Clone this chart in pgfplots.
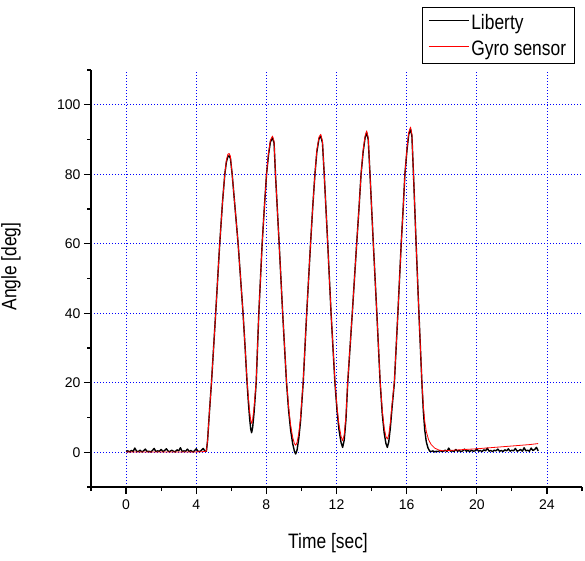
\documentclass[border=0pt]{standalone}
\usepackage{fontspec}
\setmainfont{Liberation Sans}
\usepackage{graphicx}
\usepackage{pgfplots}
\pgfplotsset{compat=1.18}

\begin{document}
\begin{tikzpicture}
\useasboundingbox (0,0) rectangle (585pt,560pt);
\begin{axis}[
  at={(91pt,73pt)}, anchor=south west,
  scale only axis, width=491pt, height=417pt,
  xmin=-2, xmax=26, ymin=-10, ymax=110,
  axis lines*=left,
  axis line style={line width=1.3pt},
  xtick={0,4,...,24}, ytick={0,20,...,100},
  minor xtick={-2,2,...,26}, minor ytick={-10,10,...,110},
  tick align=outside, major tick length=7pt, minor tick length=4pt,
  tick style={black, line width=1.2pt},
  xmajorgrids, ymajorgrids,
  major grid style={blue, line width=0.8pt, dash pattern=on 1pt off 2pt},
  /pgf/number format/assume math mode=true,
  tick label style={font=\fontsize{14}{16}\selectfont},
  xticklabel style={yshift=-2pt},
  xlabel={\scalebox{1}[1.2]{Time [sec]}},
  ylabel={\scalebox{1}[1.2]{Angle [deg]}},
  every axis x label/.style={at={(axis description cs:0.4827,-0.1343)}, anchor=center,
    font=\fontsize{17.4}{20}\selectfont},
  every axis y label/.style={at={(axis description cs:-0.1629,0.5288)}, anchor=center, rotate=90,
    font=\fontsize{17.4}{20}\selectfont},
  legend style={at={(axis description cs:0.9857,1.1511)}, anchor=north east,
    draw=black, line width=0.8pt, font=\fontsize{17.4}{20}\selectfont,
    inner xsep=6.5pt, inner ysep=5pt, row sep=5.5pt},
  legend cell align=left,
  legend image code/.code={\draw[#1, line width=0.8pt] (0pt,2.5pt) -- (40pt,2.5pt);},
]
% Liberty (reference tracker)
\addplot[black, line width=1.4pt, line join=round] coordinates {
(0.0,0.2)(0.1,0.4)(0.2,0.1)(0.3,0.5)(0.4,0.2)(0.5,1.2)(0.6,0.3)(0.7,0.2)(0.8,0.6)(0.9,0.1)
(1.0,0.4)(1.1,0.9)(1.2,0.2)(1.3,0.3)(1.4,0.1)(1.5,0.5)(1.6,1.1)(1.7,0.2)(1.8,0.4)(1.9,0.3)
(2.0,0.8)(2.1,0.2)(2.2,0.5)(2.3,1.0)(2.4,0.3)(2.5,0.2)(2.6,0.6)(2.7,0.3)(2.8,0.1)(2.9,0.7)
(3.0,0.4)(3.1,1.3)(3.2,0.2)(3.3,0.4)(3.4,0.3)(3.5,0.9)(3.6,0.2)(3.7,0.5)(3.8,0.1)(3.9,0.4)
(4.0,1.0)(4.1,0.3)(4.2,0.2)(4.3,0.6)(4.4,1.1)(4.5,0.3)(4.58,0.3)
(4.65,3.5)(4.72,9)(4.8,15)(4.87,20)(5.11,40)(5.34,60)(5.5,72)(5.63,80)(5.72,83.5)(5.8,85)(5.87,85.3)
(5.95,84.6)(6.05,80)(6.22,70)(6.39,60)(6.53,50)(6.67,40)(6.79,30)(6.9,20)(6.98,14)(7.05,9.5)
(7.11,6.6)(7.16,5.6)(7.22,7.2)(7.3,11.5)(7.42,20)
(7.57,40)(7.76,60)(7.88,70)(8.01,80)(8.12,85.5)(8.23,89.3)(8.35,90.5)
(8.44,89)(8.52,80)(8.73,60)(8.93,40)(9.15,20)(9.27,12)(9.38,6.5)(9.5,2.5)(9.6,0.3)(9.67,-0.5)
(9.75,0.6)(9.85,4)(9.95,9)(10.1,20)
(10.3,40)(10.52,60)(10.65,71)(10.77,80)(10.88,86.5)(11.0,90.2)(11.1,91)
(11.2,89)(11.3,80)(11.5,60)(11.69,40)(11.91,20)(12.03,12)(12.14,6.5)(12.26,2.8)(12.35,1.4)
(12.44,3.5)(12.54,9.5)(12.64,20)
(12.9,40)(13.15,60)(13.28,70)(13.4,80)(13.52,86.5)(13.63,90.5)(13.72,92)
(13.81,90)(13.91,80)(14.1,60)(14.3,40)(14.49,20)(14.61,11)(14.72,5.5)(14.82,2.5)(14.9,1.4)
(14.98,3)(15.07,7)(15.17,13)(15.3,20)
(15.5,40)(15.69,60)(15.8,70)(15.9,80)(16.02,87)(16.12,91.5)(16.22,93)
(16.3,91)(16.39,80)(16.54,60)(16.7,40)(16.87,20)(16.95,12)(17.03,6.5)(17.12,3)(17.22,1.2)(17.32,0.3)
(17.4,0.2)(17.5,0.4)(17.6,0.1)(17.7,0.3)(17.8,0.2)(17.9,0.5)(18.0,0.2)(18.1,0.3)(18.2,0.6)(18.3,0.2)
(18.4,1.2)(18.5,0.3)(18.6,0.4)(18.7,0.2)(18.8,0.8)(18.9,0.3)(19.0,0.5)(19.1,0.2)(19.2,0.4)(19.3,0.9)
(19.4,0.3)(19.5,0.5)(19.6,0.2)(19.7,0.6)(19.8,0.3)(19.9,0.4)(20.0,1.0)(20.1,0.3)(20.2,0.5)(20.3,0.2)
(20.4,0.7)(20.5,0.4)(20.6,1.2)(20.7,0.3)(20.8,0.5)(20.9,0.2)(21.0,0.6)(21.1,0.4)(21.2,0.9)(21.3,0.3)
(21.4,0.5)(21.5,0.2)(21.6,0.7)(21.7,0.4)(21.8,1.0)(21.9,0.3)(22.0,0.6)(22.1,0.4)(22.2,1.1)(22.3,0.3)
(22.4,0.5)(22.5,0.8)(22.6,0.3)(22.7,1.3)(22.8,0.4)(22.9,0.6)(23.0,0.3)(23.1,1.2)(23.2,0.5)(23.3,0.8)
(23.4,1.4)(23.5,0.4)
};
\addlegendentry{\scalebox{1}[1.2]{Liberty}}
% Gyro sensor
\addplot[red, line width=0.8pt, line join=round] coordinates {
(0,0.1)(1,0.1)(2,0.1)(3,0.1)(4,0.1)(4.5,0.2)(4.58,0.4)
(4.65,3.5)(4.72,9)(4.8,15)(4.87,20)(5.11,40)(5.34,60)(5.5,72)(5.63,80)(5.72,84)(5.8,85.7)(5.87,86)
(5.95,85.2)(6.05,80)(6.22,70)(6.39,60)(6.53,50)(6.67,40)(6.79,30)(6.9,20.5)(6.98,15.5)(7.05,11.5)
(7.11,9.2)(7.16,8.3)(7.22,9.5)(7.3,13)(7.42,20.5)
(7.57,40)(7.76,60)(7.88,70)(8.01,80)(8.12,86)(8.23,89.8)(8.35,91)
(8.44,89.5)(8.52,80)(8.73,60)(8.93,40)(9.15,20.5)(9.27,13)(9.38,8)(9.5,4.3)(9.6,2.5)(9.67,2.0)
(9.75,2.8)(9.85,5.5)(9.95,10)(10.1,20.5)
(10.3,40)(10.52,60)(10.65,71)(10.77,80)(10.88,87)(11.0,90.7)(11.1,91.5)
(11.2,89.5)(11.3,80)(11.5,60)(11.69,40)(11.91,20.5)(12.03,13)(12.14,8)(12.26,4.6)(12.35,3.3)
(12.44,5)(12.54,10.5)(12.64,20.5)
(12.9,40)(13.15,60)(13.28,70)(13.4,80)(13.52,87)(13.63,91)(13.72,92.5)
(13.81,90.5)(13.91,80)(14.1,60)(14.3,40)(14.49,20.5)(14.61,12)(14.72,7)(14.82,4.5)(14.9,3.8)
(14.98,5)(15.07,8.5)(15.17,14)(15.3,20.5)
(15.5,40)(15.69,60)(15.8,70)(15.9,80)(16.02,87.5)(16.12,92)(16.22,93.6)
(16.3,91.5)(16.39,80)(16.54,60)(16.7,40)(16.87,20.5)(16.95,13.5)(17.03,9)(17.12,6)(17.25,3.6)
(17.4,2.2)(17.6,1.2)(17.85,0.6)(18.1,0.4)(19,0.7)(20,1.0)(21,1.4)(22,1.8)(23,2.2)(23.5,2.5)
};
\addlegendentry{\scalebox{1}[1.2]{Gyro sensor}}
\end{axis}
\end{tikzpicture}
\end{document}
